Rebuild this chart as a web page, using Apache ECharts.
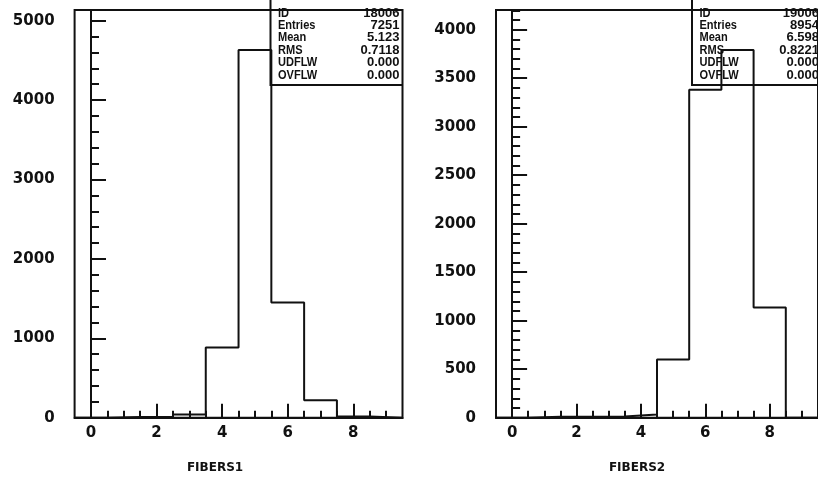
<!DOCTYPE html>
<html>
<head>
<meta charset="utf-8">
<title>FIBERS1 / FIBERS2</title>
<script src="https://cdn.jsdelivr.net/npm/echarts@6/dist/echarts.min.js"></script>
<style>
  html, body { margin: 0; padding: 0; background: #fff; }
  #chart { width: 818px; height: 491px; }
</style>
</head>
<body>
<div id="chart"></div>
<script>
// Bin centres (unit-width bins from -0.5 to 9.5)
const binCenters = [0, 1, 2, 3, 4, 5, 6, 7, 8, 9];
// Counts per bin
const fibers1Counts = [0, 10, 12, 40, 885, 4630, 1450, 220, 14, 0];
const fibers2Counts = [0, 10, 10, 12, 32, 600, 3380, 3790, 1135, 0];

// Axis tick values
const xMajorTicks = [0, 2, 4, 6, 8];
const xMinorTicks = [0.5, 1, 1.5, 2.5, 3, 3.5, 4.5, 5, 5.5, 6.5, 7, 7.5, 8.5, 9];
const xRange = [-0.5, 9.5];
const y1Max = 5135, y1Step = 1000;
const y2Max = 4203, y2Step = 500;

// Statistics boxes
const statNames = ['ID', 'Entries', 'Mean', 'RMS', 'UDFLW', 'OVFLW'];
const stats1 = ['18006', '7251', '5.123', '0.7118', '0.000', '0.000'];
const stats2 = ['19006', '8954', '6.598', '0.8221', '0.000', '0.000'];

const axisTitles = ['FIBERS1', 'FIBERS2'];

// Turn bin contents into a closed step outline (HBOOK style)
function outline(centers, counts) {
  const pts = [[centers[0] - 0.5, 0]];
  centers.forEach((c, i) => {
    pts.push([c - 0.5, counts[i]]);
    pts.push([c + 0.5, counts[i]]);
  });
  pts.push([centers[centers.length - 1] + 0.5, 0]);
  return pts;
}

const INK = '#111';
const tickFont = { fontFamily: 'DejaVu Sans', fontWeight: 'bold', fontSize: 15, color: INK };

const grids = [
  { left: 74.6, top: 10, width: 327.9, height: 407.7 },
  { left: 496, top: 10, width: 326.3, height: 407.7 }
];

function xAxesFor(gi) {
  return [
    {
      gridIndex: gi, type: 'value', position: 'bottom', min: xRange[0], max: xRange[1],
      axisLine: { lineStyle: { color: INK, width: 2 } },
      axisTick: { inside: true, length: 14, customValues: xMajorTicks, lineStyle: { color: INK, width: 2 } },
      axisLabel: Object.assign({ customValues: xMajorTicks, margin: 8, formatter: v => String(v) }, tickFont),
      splitLine: { show: false }
    },
    {
      gridIndex: gi, type: 'value', position: 'bottom', min: xRange[0], max: xRange[1],
      axisLine: { show: false },
      axisTick: { inside: true, length: 7, customValues: xMinorTicks, lineStyle: { color: INK, width: 2 } },
      axisLabel: { show: false },
      splitLine: { show: false }
    }
  ];
}

function yAxisFor(gi, max, step) {
  return {
    gridIndex: gi, type: 'value', min: 0, max: max, interval: step,
    axisLine: { show: true, lineStyle: { color: INK, width: 2 } },
    axisTick: { show: true, inside: true, length: 15, lineStyle: { color: INK, width: 2 } },
    minorTick: { show: true, splitNumber: 5, length: 8, lineStyle: { color: INK, width: 2 } },
    axisLabel: Object.assign({ margin: 20, showMaxLabel: false, formatter: v => String(v) }, tickFont),
    splitLine: { show: false }
  };
}

// Statistics box: frame plus label/value rows
function statBox(x0, x1, values) {
  const els = [{
    type: 'polyline', z: 1,
    shape: { points: [[x0, 0], [x0, 85], [x1, 85]] },
    style: { stroke: INK, lineWidth: 2, fill: null }
  }];
  const rowsY = [13, 25, 37.5, 50, 62.5, 75];
  statNames.forEach((name, i) => {
    els.push({
      type: 'text', z: 1, x: x0 + 7.5, y: rowsY[i], scaleX: 0.85,
      style: { text: name, fill: INK, font: "bold 13px 'Liberation Sans', sans-serif",
               textAlign: 'left', textVerticalAlign: 'middle' }
    });
    els.push({
      type: 'text', z: 1, x: x1 - 3, y: rowsY[i],
      style: { text: values[i], fill: INK, font: "bold 13px 'Liberation Sans', sans-serif",
               textAlign: 'right', textVerticalAlign: 'middle' }
    });
  });
  return els;
}

const chart = echarts.init(document.getElementById('chart'), null, { renderer: 'canvas' });

chart.setOption({
  backgroundColor: '#fff',
  animation: false,
  grid: grids.map(g => Object.assign({ show: true, borderColor: INK, borderWidth: 2, backgroundColor: 'transparent' }, g)),
  xAxis: xAxesFor(0).concat(xAxesFor(1)),
  yAxis: [yAxisFor(0, y1Max, y1Step), yAxisFor(1, y2Max, y2Step)],
  series: [
    {
      type: 'line', xAxisIndex: 0, yAxisIndex: 0, z: 3,
      data: outline(binCenters, fibers1Counts),
      showSymbol: false, lineStyle: { color: INK, width: 2 }
    },
    {
      type: 'line', xAxisIndex: 2, yAxisIndex: 1, z: 3,
      data: outline(binCenters, fibers2Counts),
      showSymbol: false, lineStyle: { color: INK, width: 2 }
    }
  ],
  graphic: [
    ...statBox(270.5, 402.5, stats1),
    ...statBox(692, 822, stats2),
    {
      type: 'text', x: 215, y: 468,
      style: { text: axisTitles[0], fill: INK, font: "bold 12px 'DejaVu Sans', sans-serif",
               textAlign: 'center', textVerticalAlign: 'middle' }
    },
    {
      type: 'text', x: 637, y: 468,
      style: { text: axisTitles[1], fill: INK, font: "bold 12px 'DejaVu Sans', sans-serif",
               textAlign: 'center', textVerticalAlign: 'middle' }
    }
  ]
});
</script>
</body>
</html>
